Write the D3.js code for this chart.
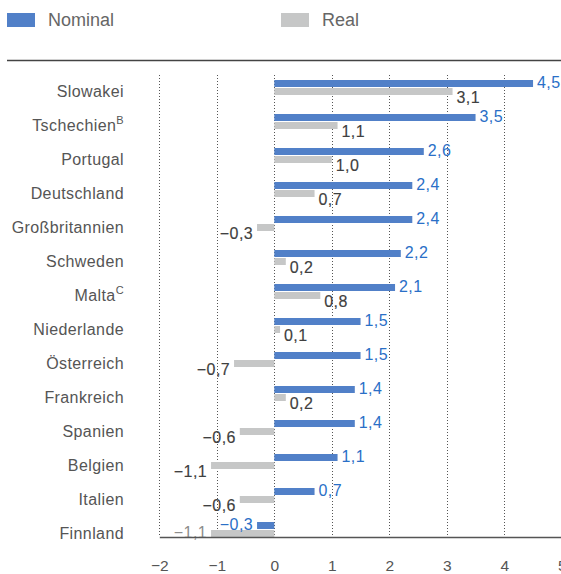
<!DOCTYPE html>
<html><head><meta charset="utf-8">
<script src="https://cdn.jsdelivr.net/npm/d3@7"></script>
<style>body{margin:0;background:#fff}svg{display:block}text{font-family:"Liberation Sans",Arial,sans-serif}</style>
</head><body>
<script>
const categories = ["Slowakei","Tschechien","Portugal","Deutschland","Großbritannien","Schweden","Malta","Niederlande","Österreich","Frankreich","Spanien","Belgien","Italien","Finnland"];
const superscripts = ["","B","","","","","C","","","","","","",""];
const nominal = [4.5,3.5,2.6,2.4,2.4,2.2,2.1,1.5,1.5,1.4,1.4,1.1,0.7,-0.3];
const real = [3.1,1.1,1.0,0.7,-0.3,0.2,0.8,0.1,-0.7,0.2,-0.6,-1.1,-0.6,-1.1];
const xTicks = [-2,-1,0,1,2,3,4,5];
const seriesNames = ["Nominal","Real"];

const W = 561, H = 574;
const blue = "#5180c8", grey = "#c6c7c7", blueText = "#2a6fc7", darkText = "#404040";
const svg = d3.select("body").append("svg").attr("width", W).attr("height", H);

const x = d3.scaleLinear().domain([-2,5]).range([159.3, 561.8]);
const y = d3.scaleBand().domain(categories).range([76, 552]).paddingInner(0).paddingOuter(0);
const barH = 7;
const axisY = 537;
const fmt = v => (v < 0 ? "\u2212" : "") + Math.abs(v).toFixed(1).replace(".", ",");

// legend
const lg = svg.append("g");
[[blue,7,48],[grey,281,322]].forEach((d,i)=>{
  lg.append("rect").attr("x",d[1]).attr("y",13).attr("width",28).attr("height",14).attr("fill",d[0]);
  lg.append("text").attr("x",d[2]).attr("y",20).attr("dy","0.36em").attr("font-size",18).attr("fill","#666").text(seriesNames[i]);
});
svg.append("line").attr("x1",7).attr("x2",W).attr("y1",60.5).attr("y2",60.5).attr("stroke","#444").attr("stroke-width",1.5);

// gridlines
svg.append("g").selectAll("line").data(xTicks).join("line")
  .attr("x1",d=>Math.round(x(d))+0.5).attr("x2",d=>Math.round(x(d))+0.5)
  .attr("y1",75).attr("y2",axisY)
  .attr("stroke","#555").attr("stroke-width",1).attr("stroke-dasharray","1,2");

const rowTop = c => y(c) + 4;

// bars
const g = svg.append("g");
g.selectAll("rect.nom").data(categories).join("rect").attr("class","nom")
  .attr("x",(c,i)=>x(Math.min(0,nominal[i]))).attr("width",(c,i)=>Math.abs(x(nominal[i])-x(0)))
  .attr("y",c=>rowTop(c)).attr("height",barH).attr("fill",blue);
g.selectAll("rect.real").data(categories).join("rect").attr("class","real")
  .attr("x",(c,i)=>x(Math.min(0,real[i]))).attr("width",(c,i)=>Math.abs(x(real[i])-x(0)))
  .attr("y",c=>rowTop(c)+barH+1).attr("height",barH).attr("fill",grey);

// value labels
g.selectAll("text.nl").data(categories).join("text").attr("class","nl")
  .attr("x",(c,i)=>x(nominal[i]) + (nominal[i]<0?-4:4))
  .attr("text-anchor",(c,i)=>nominal[i]<0?"end":"start")
  .attr("y",c=>rowTop(c)+2.5).attr("dy","0.36em")
  .attr("font-size",16).attr("letter-spacing",0.4).attr("fill",blueText).text((c,i)=>fmt(nominal[i]));
const clamped = c => rowTop(c)+barH+1+barH/2+5.5 > axisY-5;
g.selectAll("text.rl").data(categories).join("text").attr("class","rl")
  .attr("x",(c,i)=>x(real[i]) + (real[i]<0?-4:4))
  .attr("text-anchor",(c,i)=>real[i]<0?"end":"start")
  .attr("y",c=>Math.min(rowTop(c)+barH+1+barH/2+5.5, axisY-5))
  .attr("dy","0.36em")
  .attr("font-size",16).attr("letter-spacing",0.4)
  .attr("fill",c=>clamped(c) ? "#8c8c8c" : darkText)
  .attr("stroke",c=>clamped(c) ? "none" : darkText)
  .attr("stroke-width",0.15)
  .text((c,i)=>fmt(real[i]));

// axis
const axis = d3.axisBottom(x).tickValues(xTicks).tickSize(0).tickPadding(0).tickFormat(d=>(d<0?"\u2212":"")+Math.abs(d));
const ag = svg.append("g").attr("transform",`translate(0,${axisY})`).call(axis);
ag.select(".domain").attr("stroke","#555").attr("stroke-width",1.5);
ag.selectAll("text").attr("font-size",15.5).attr("fill","#555").attr("y",28).attr("dy","0.36em").style("font-family",'"Liberation Sans",Arial,sans-serif');

// category labels
const cl = g.selectAll("text.cl").data(categories).join("text").attr("class","cl")
  .attr("x",124).attr("text-anchor","end")
  .attr("y",c=>rowTop(c)+11).attr("dy","0.36em")
  .attr("font-size",16).attr("letter-spacing",0.4).attr("fill","#555");
cl.append("tspan").text(c=>c);
cl.append("tspan").attr("font-size",11).attr("dy","-0.6em").text((c,i)=>superscripts[i]);
</script>
</body></html>
